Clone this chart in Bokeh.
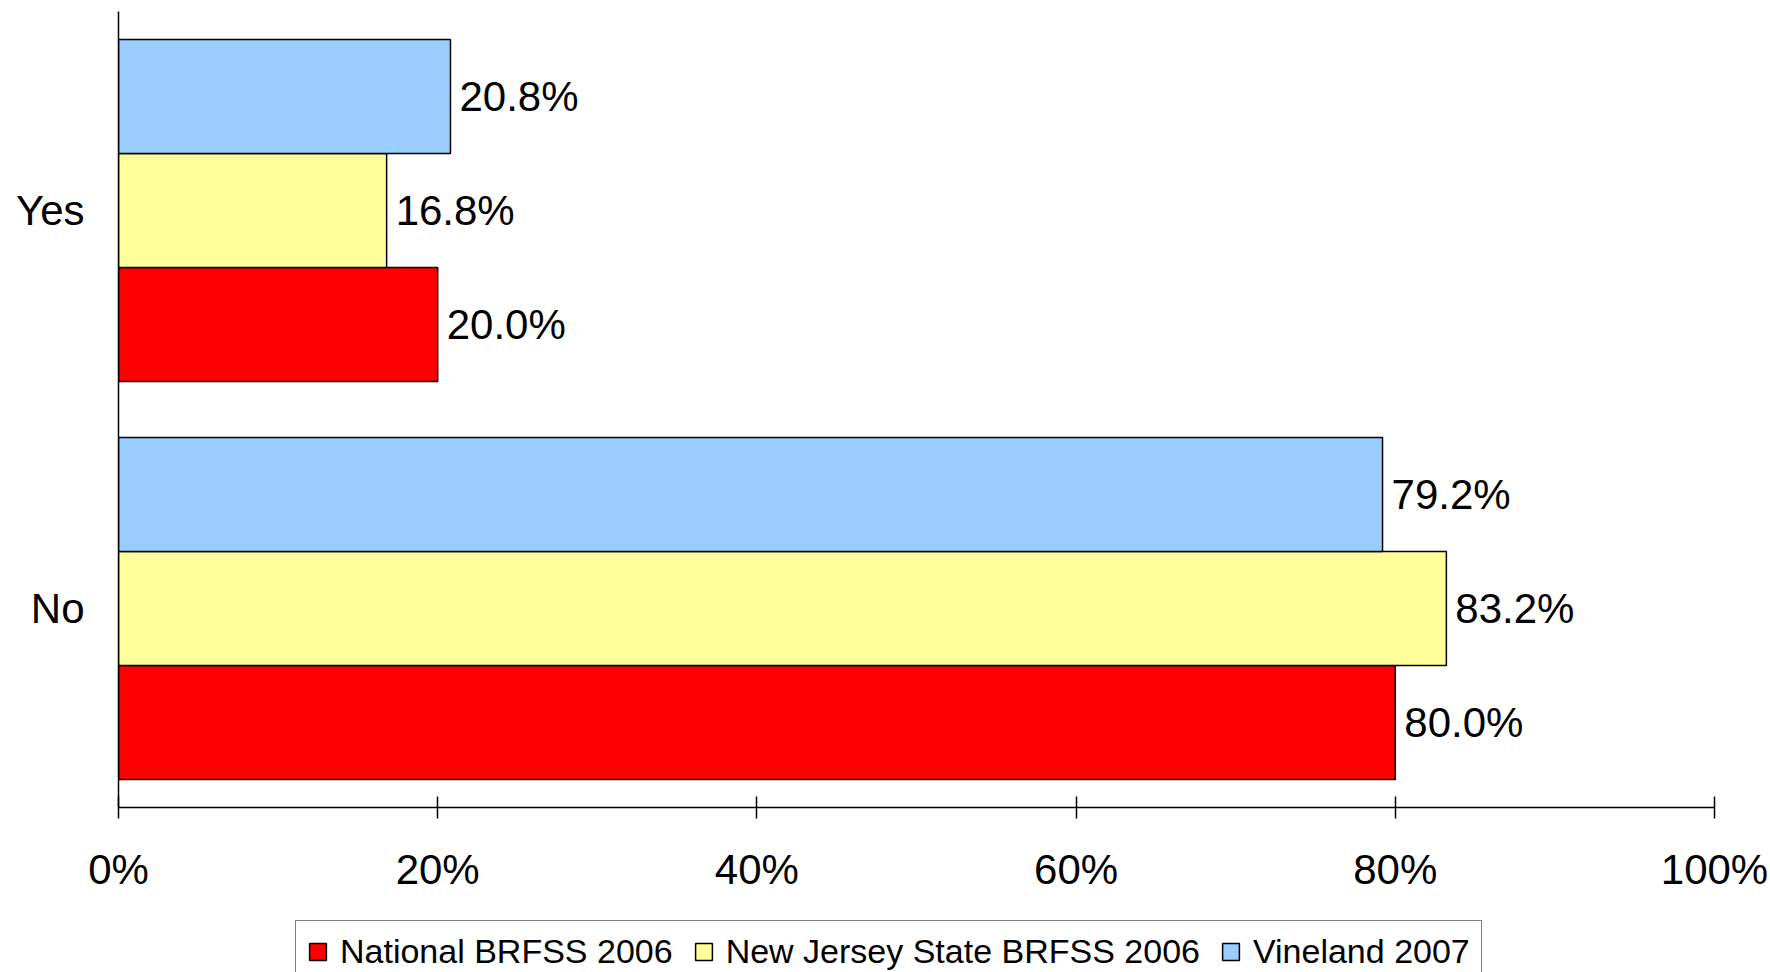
from bokeh.plotting import figure
from bokeh.layouts import column
from bokeh.models import (ColumnDataSource, FactorRange, Range1d, FixedTicker,
                          PrintfTickFormatter, Legend, LegendItem)
from bokeh.transform import dodge
from bokeh.core.properties import value
from bokeh.embed import file_html
from bokeh.resources import INLINE

# ---- data ----
categories = ["No", "Yes"]
series_names = ["National BRFSS 2006", "New Jersey State BRFSS 2006", "Vineland 2007"]
national = [80.0, 20.0]
new_jersey = [83.2, 16.8]
vineland = [79.2, 20.8]
x_ticks = [0, 20, 40, 60, 80, 100]

series_values = [national, new_jersey, vineland]
colors = ["#FF0000", "#FFFF99", "#99CCFF"]
bar_h = 0.2864
offsets = [-bar_h, 0.0, bar_h]
FONT = "Liberation Sans"

p = figure(width=1770, height=918,
           y_range=FactorRange(factors=categories, range_padding=0),
           x_range=Range1d(0, 100),
           output_backend="svg", toolbar_location=None,
           min_border_left=118, min_border_right=56,
           min_border_top=11, min_border_bottom=111)

sources = []
for name, vals, col, off in zip(series_names, series_values, colors, offsets):
    src = ColumnDataSource(dict(cat=categories, val=vals,
                                label=[f"{v:.1f}%" for v in vals]))
    sources.append(src)
    p.hbar(y=dodge("cat", off, range=p.y_range), left=0, right="val",
           height=bar_h, fill_color=col, line_color="black",
           line_width=1.5, source=src)
    p.text(x="val", y=dodge("cat", off, range=p.y_range), text="label",
           x_offset=9, text_baseline="middle", text_align="left",
           text_font=value(FONT), text_font_size="42px", text_color="black",
           source=src)

# axes
xa = p.xaxis[0]
xa.ticker = FixedTicker(ticks=x_ticks)
xa.formatter = PrintfTickFormatter(format="%d%%")
xa.major_tick_in = 11
xa.major_tick_out = 11
xa.minor_tick_line_color = None
xa.axis_line_width = 1.5
xa.major_tick_line_width = 1.5
xa.axis_line_color = "black"
xa.major_tick_line_color = "black"
xa.major_label_text_font = FONT
xa.major_label_text_font_size = "42px"
xa.major_label_text_color = "black"
xa.major_label_standoff = 27

ya = p.yaxis[0]
ya.major_tick_in = 0
ya.major_tick_out = 0
ya.minor_tick_line_color = None
ya.axis_line_width = 1.5
ya.axis_line_color = "black"
ya.major_label_text_font = FONT
ya.major_label_text_font_size = "42px"
ya.major_label_text_color = "black"
ya.major_label_standoff = 34

p.grid.visible = False
p.outline_line_color = None
p.background_fill_color = "white"
p.border_fill_color = "white"

# ---- legend strip (separate figure under the chart) ----
lg = figure(width=1770, height=54,
            y_range=FactorRange(factors=categories, range_padding=0),
            x_range=Range1d(0, 100),
            output_backend="svg", toolbar_location=None,
            x_axis_location=None, y_axis_location=None,
            min_border=0, min_border_left=0, min_border_right=0,
            min_border_top=0, min_border_bottom=0)
lg.grid.visible = False
lg.outline_line_color = None
lg.background_fill_color = "white"
lg.border_fill_color = "white"

items = []
for name, col, src in zip(series_names, colors, sources):
    r = lg.hbar(y="cat", left=0, right="val", height=bar_h, fill_color=col,
                line_color="black", line_width=1.5, source=src, visible=False)
    items.append(LegendItem(label=name, renderers=[r]))

legend = Legend(items=items, orientation="horizontal", location=(177, -11),
                label_text_font=FONT, label_text_font_size="34px",
                label_text_color="black",
                glyph_width=21, glyph_height=21, label_standoff=12,
                spacing=20, padding=11, margin=0,
                inactive_fill_alpha=0.0,
                border_line_color="black", border_line_width=1.5,
                background_fill_color="white", background_fill_alpha=1.0)
lg.add_layout(legend)

layout = column(p, lg, spacing=0)
open("out.html", "w").write(file_html(layout, INLINE))
